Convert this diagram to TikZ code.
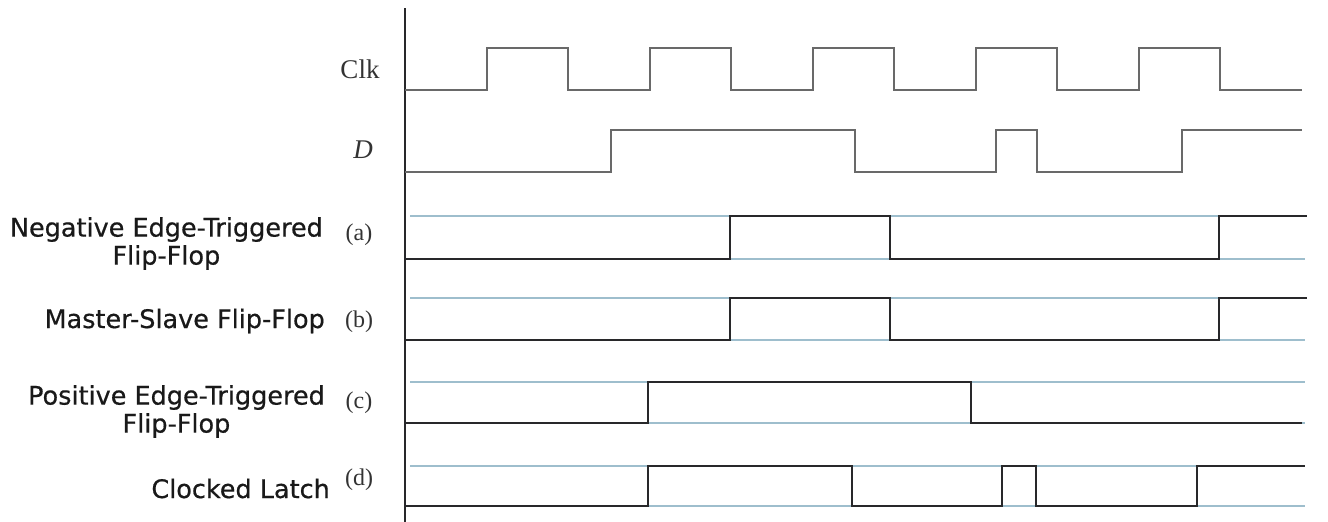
\documentclass[tikz,border=0pt]{standalone}
\usepackage{fontspec}
\setmainfont{Liberation Serif}
\setsansfont{DejaVu Sans}
\newfontfamily\descfont{DejaVu Sans}[FakeBold=0.6]
\usetikzlibrary{positioning}
\definecolor{wavegrey}{RGB}{105,105,105}
\definecolor{outblack}{RGB}{40,40,42}
\definecolor{guideblue}{RGB}{158,190,205}
\tikzset{
  axisline/.style={draw=outblack,line width=1.6pt},
  inwave/.style={draw=wavegrey,line width=1.5pt},
  outwave/.style={draw=outblack,line width=2.4pt},
  guide/.style={draw=guideblue,line width=1.8pt},
  sig/.style={inner sep=0pt,text=black!80,font=\fontsize{27}{30}\selectfont},
  tag/.style={inner sep=0pt,text=black!80,font=\fontsize{24}{28}\selectfont},
  desc/.style={inner sep=0pt,align=center,text=black!90,
    font=\descfont\fontsize{25.5}{28}\selectfont},
}
\begin{document}
\begin{tikzpicture}[x=1pt,y=-1pt]
  \useasboundingbox (0,0) rectangle (1328,522);
  % signal names
  \node[sig,anchor=base] (clkname) at (360,78) {Clk};
  \node[sig,anchor=base] (dname) at (363,158) {\itshape D};
  \node[desc,anchor=north east] (nega) at (323,217) {Negative Edge-Triggered\\Flip-Flop};
  \node[desc,anchor=base east] (msff) at (325,328) {Master-Slave Flip-Flop};
  \node[desc,anchor=north east] (posi) at (325,385) {Positive Edge-Triggered\\Flip-Flop};
  \node[desc,anchor=base east] (latch) at (330,498) {Clocked Latch};
  \node[tag,anchor=base] (ta) at (359,240) {(a)};
  \node[tag,anchor=base] (tb) at (359,327) {(b)};
  \node[tag,anchor=base] (tc) at (359,408) {(c)};
  \node[tag,anchor=base] (td) at (359,485) {(d)};
  % reference levels
  \foreach \hi/\lo in {216/259,298/340,382/423,466/506}
    \draw[guide] (410,\hi) -- (1305,\hi) (410,\lo) -- (1305,\lo);
  \draw[axisline] (405,8) -- (405,522);
  % inputs
  \draw[inwave] (405,90) \foreach \k in {0,...,4}{
      -- ({487+163*\k},90) -- ({487+163*\k},48)
      -- ({568+163*\k},48) -- ({568+163*\k},90)} -- (1302,90);
  \draw[inwave] (405,172) -| (611,130) -| (855,172) -| (996,130)
    -| (1037,172) -| (1182,130) -- (1302,130);
  % outputs
  \draw[outwave] (405,259) -| (730,216) -| (890,259) -| (1219,216) -- (1307,216);
  \draw[outwave] (405,340) -| (730,298) -| (890,340) -| (1219,298) -- (1307,298);
  \draw[outwave] (405,423) -| (648,382) -| (971,423) -- (1302,423);
  \draw[outwave] (405,506) -| (648,466) -| (852,506) -| (1002,466)
    -| (1036,506) -| (1197,466) -- (1305,466);
\end{tikzpicture}
\end{document}
